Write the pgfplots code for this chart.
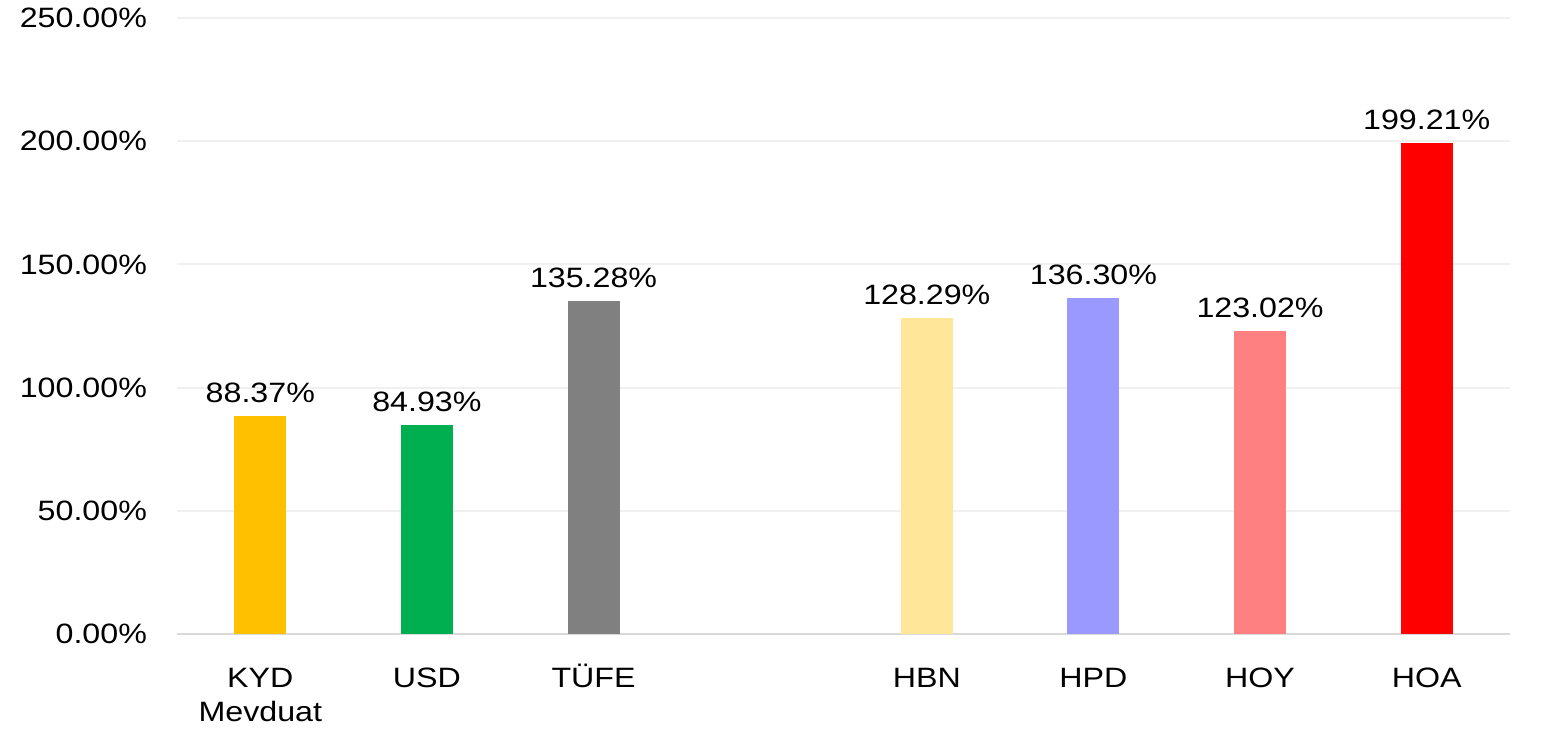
\documentclass[border=0pt]{standalone}
\usepackage{fontspec}
\setmainfont{Liberation Sans}[FakeStretch=1.15]
\usepackage{pgfplots}
\pgfplotsset{compat=1.18}

\definecolor{cKYD}{HTML}{FFC000}
\definecolor{cUSD}{HTML}{00B050}
\definecolor{cTUFE}{HTML}{808080}
\definecolor{cHBN}{HTML}{FFE699}
\definecolor{cHPD}{HTML}{9999FF}
\definecolor{cHOY}{HTML}{FF8080}
\definecolor{cHOA}{HTML}{FF0000}
\definecolor{gridc}{HTML}{F0F0F0}
\definecolor{basec}{HTML}{D9D9D9}

\newcommand{\lblfont}{\fontsize{14}{17}\selectfont}

\begin{document}
\begin{tikzpicture}
\begin{axis}[
    scale only axis,
    width=666.5pt,
    height=308pt,
    xmin=-0.5, xmax=7.5,
    ymin=0, ymax=250,
    ytick={0,50,100,150,200,250},
    yticklabel={\pgfmathprintnumber[fixed,fixed zerofill,precision=2]{\tick}\%},
    /pgf/number format/assume math mode=true,
    xtick={0,1,2,4,5,6,7},
    xticklabels={\vphantom{Ü}KYD\\Mevduat,\vphantom{Ü}USD,\vphantom{Ü}TÜFE,\vphantom{Ü}HBN,\vphantom{Ü}HPD,\vphantom{Ü}HOY,\vphantom{Ü}HOA},
    xticklabel style={align=center, font=\lblfont, yshift=-7pt},
    yticklabel style={font=\lblfont, xshift=-11.5pt},
    axis line style={draw=none},
    major tick style={draw=none},
    ymajorgrids,
    grid style={color=gridc, line width=1pt},
    extra y ticks={0},
    extra y tick labels={},
    extra y tick style={grid style={color=basec, line width=1pt}},
    ybar,
    bar width=26pt,
    bar shift=0pt,
    nodes near coords={\pgfmathprintnumber[fixed,fixed zerofill,precision=2]{\pgfplotspointmeta}\%},
    nodes near coords style={font=\lblfont, text=black, anchor=south, yshift=3pt},
]
\addplot[fill=cKYD, draw=none] coordinates {(0,88.37)};
\addplot[fill=cUSD, draw=none] coordinates {(1,84.93)};
\addplot[fill=cTUFE, draw=none] coordinates {(2,135.28)};
\addplot[fill=cHBN, draw=none] coordinates {(4,128.29)};
\addplot[fill=cHPD, draw=none] coordinates {(5,136.30)};
\addplot[fill=cHOY, draw=none] coordinates {(6,123.02)};
\addplot[fill=cHOA, draw=none] coordinates {(7,199.21)};
\end{axis}
\pgfresetboundingbox
\useasboundingbox (-88.5pt,-47.5pt) rectangle (682pt,317pt);
\end{tikzpicture}
\end{document}
